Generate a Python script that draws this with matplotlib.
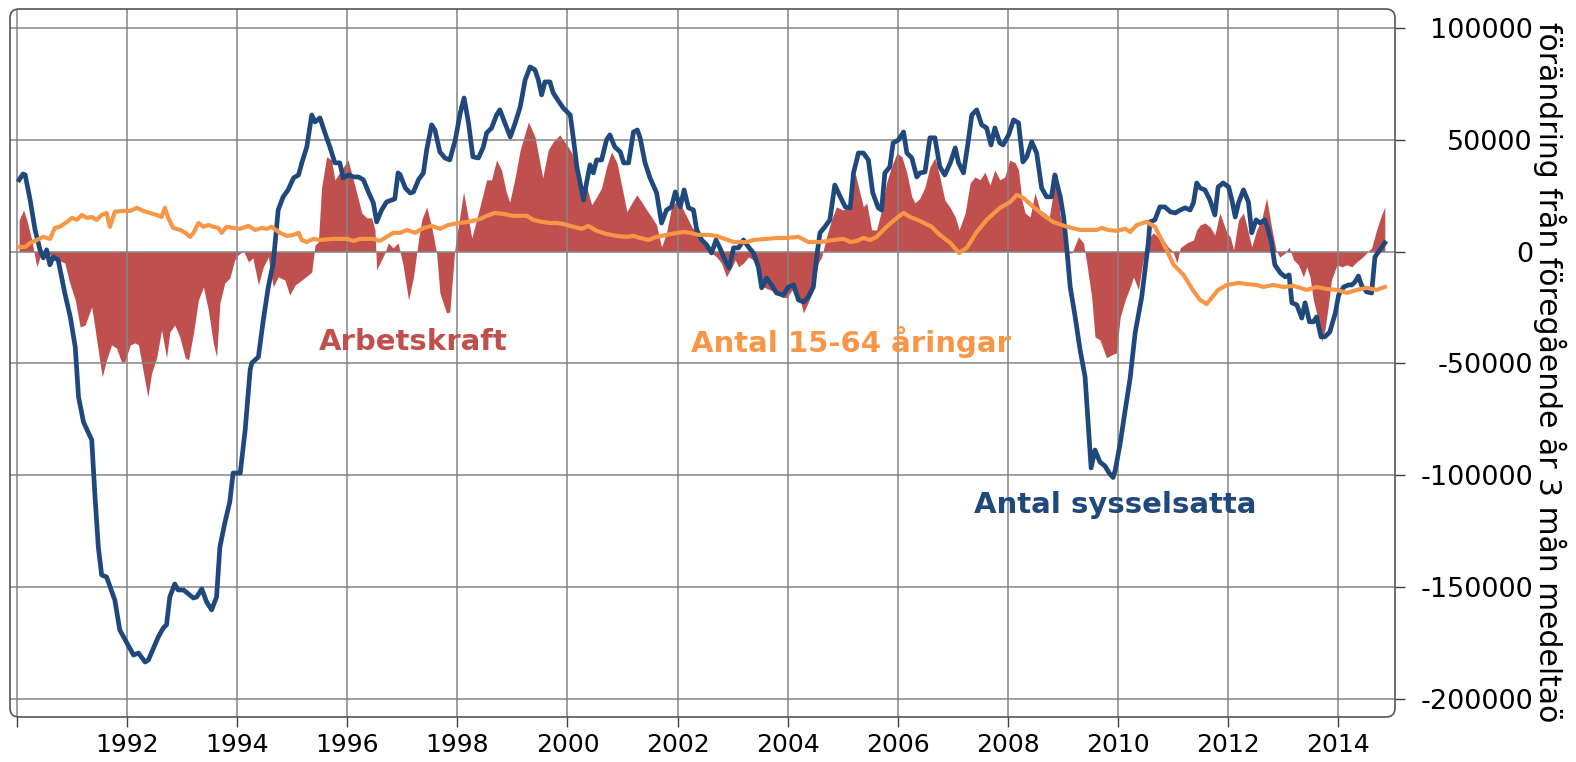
import matplotlib
matplotlib.use("Agg")
import matplotlib.pyplot as plt
import numpy as np
from matplotlib.patches import FancyBboxPatch
from matplotlib.transforms import IdentityTransform

plt.rcParams['font.family'] = ['DejaVu Sans']
plt.rcParams['axes.unicode_minus'] = False

# ---------------- data (values in thousands of persons) ----------------
# Antal sysselsatta (employed) - blue line
emp_t = [1990.03, 1990.10, 1990.14, 1990.23, 1990.32, 1990.41, 1990.47, 1990.53, 1990.59, 1990.65,
         1990.74, 1990.86, 1990.96, 1991.05, 1991.11, 1991.20, 1991.35, 1991.41, 1991.47, 1991.53,
         1991.62, 1991.77, 1991.86, 1992.11, 1992.20, 1992.32, 1992.38, 1992.56, 1992.65, 1992.71,
         1992.77, 1992.86, 1992.92, 1993.02, 1993.20, 1993.26, 1993.35, 1993.44, 1993.53, 1993.62,
         1993.68, 1993.77, 1993.86, 1993.92, 1994.05, 1994.14, 1994.23, 1994.26, 1994.38, 1994.47,
         1994.56, 1994.65, 1994.74, 1994.83, 1994.92, 1995.02, 1995.11, 1995.17, 1995.26, 1995.35,
         1995.41, 1995.50, 1995.59, 1995.68, 1995.77, 1995.86, 1995.92, 1996.02, 1996.11, 1996.20,
         1996.29, 1996.38, 1996.47, 1996.53, 1996.62, 1996.71, 1996.86, 1996.92, 1996.96, 1997.05,
         1997.14, 1997.20, 1997.29, 1997.38, 1997.44, 1997.53, 1997.59, 1997.68, 1997.77, 1997.86,
         1997.96, 1998.05, 1998.12, 1998.20, 1998.28, 1998.38, 1998.47, 1998.53, 1998.62, 1998.71,
         1998.77, 1998.86, 1998.96, 1999.05, 1999.14, 1999.23, 1999.32, 1999.41, 1999.47, 1999.53,
         1999.59, 1999.68, 1999.74, 1999.80, 1999.92, 2000.05, 2000.11, 2000.17, 2000.23, 2000.29,
         2000.35, 2000.41, 2000.47, 2000.53, 2000.62, 2000.71, 2000.77, 2000.86, 2000.96, 2001.02,
         2001.11, 2001.20, 2001.27, 2001.32, 2001.41, 2001.50, 2001.62, 2001.71, 2001.80, 2001.89,
         2001.96, 2002.05, 2002.12, 2002.20, 2002.29, 2002.35, 2002.44, 2002.53, 2002.62, 2002.70,
         2002.77, 2002.86, 2002.94, 2003.02, 2003.11, 2003.20, 2003.29, 2003.38, 2003.47, 2003.53,
         2003.62, 2003.71, 2003.80, 2003.92, 2004.02, 2004.11, 2004.20, 2004.29, 2004.38, 2004.47,
         2004.53, 2004.59, 2004.68, 2004.77, 2004.86, 2004.96, 2005.05, 2005.14, 2005.20, 2005.29,
         2005.38, 2005.47, 2005.55, 2005.65, 2005.71, 2005.77, 2005.86, 2005.92, 2006.02, 2006.11,
         2006.17, 2006.26, 2006.35, 2006.41, 2006.50, 2006.59, 2006.68, 2006.77, 2006.86, 2006.96,
         2007.05, 2007.11, 2007.20, 2007.29, 2007.35, 2007.44, 2007.53, 2007.62, 2007.70, 2007.77,
         2007.86, 2007.92, 2008.02, 2008.11, 2008.20, 2008.28, 2008.35, 2008.44, 2008.53, 2008.62,
         2008.71, 2008.80, 2008.86, 2008.96, 2009.02, 2009.08, 2009.14, 2009.23, 2009.32, 2009.41,
         2009.47, 2009.52, 2009.59, 2009.68, 2009.77, 2009.86, 2009.92, 2009.96, 2010.05, 2010.14,
         2010.23, 2010.32, 2010.44, 2010.50, 2010.56, 2010.59, 2010.68, 2010.77, 2010.86, 2010.96,
         2011.05, 2011.14, 2011.23, 2011.32, 2011.38, 2011.44, 2011.50, 2011.59, 2011.68, 2011.77,
         2011.83, 2011.92, 2012.02, 2012.08, 2012.14, 2012.20, 2012.29, 2012.38, 2012.44, 2012.52,
         2012.59, 2012.68, 2012.74, 2012.80, 2012.86, 2012.96, 2013.05, 2013.12, 2013.17, 2013.26,
         2013.35, 2013.41, 2013.49, 2013.56, 2013.62, 2013.70, 2013.77, 2013.86, 2013.96, 2014.02,
         2014.11, 2014.20, 2014.26, 2014.32, 2014.38, 2014.44, 2014.53, 2014.62, 2014.68, 2014.77,
         2014.86]
emp_v = [32.1, 34.7, 34.3, 23.1, 9.7, 0.8, -2.8, 0.8, -5.9, -2.4,
         -3.7, -18.5, -29.2, -42.6, -65.0, -76.2, -84.2, -109.7, -132.1, -144.6,
         -145.5, -155.8, -169.2, -180.4, -179.5, -183.5, -182.6, -172.3, -168.3, -166.9,
         -154.4, -148.6, -151.3, -151.3, -154.9, -154.4, -150.8, -156.7, -160.2, -154.4,
         -132.1, -121.3, -111.9, -99.0, -99.0, -79.7, -52.9, -49.8, -47.1, -30.5,
         -15.8, -5.1, 18.6, 24.5, 27.6, 33.0, 34.3, 39.7, 46.8, 61.1,
         58.0, 59.8, 53.1, 46.8, 39.7, 39.7, 33.0, 34.3, 33.4, 33.4,
         32.1, 26.7, 21.8, 13.3, 18.6, 22.2, 23.6, 35.2, 34.3, 28.5,
         26.2, 26.7, 32.1, 35.2, 45.5, 56.7, 54.4, 44.6, 41.9, 41.0,
         50.0, 62.0, 68.7, 57.6, 42.4, 41.9, 46.8, 53.1, 55.3, 61.1,
         63.4, 57.6, 51.3, 57.6, 64.7, 76.8, 82.6, 81.2, 76.8, 70.1,
         75.9, 75.9, 71.0, 68.7, 64.3, 61.1, 50.0, 37.9, 30.7, 23.1,
         31.2, 38.8, 35.2, 41.0, 41.0, 50.0, 52.2, 46.8, 44.6, 39.7,
         39.7, 53.5, 54.4, 50.9, 39.7, 33.0, 26.3, 12.8, 18.6, 20.0,
         26.7, 20.0, 27.6, 19.6, 18.6, 9.7, 5.2, 3.0, -0.6, 5.2,
         1.7, -3.7, -7.3, 1.7, 1.7, 5.2, 2.1, -0.6, -6.8, -16.2,
         -11.8, -14.9, -18.5, -19.4, -15.8, -14.9, -21.6, -22.5, -20.3, -15.8,
         -2.4, 8.4, 11.1, 14.2, 29.8, 24.5, 20.0, 19.5, 35.2, 44.1,
         44.1, 41.0, 26.3, 19.6, 18.6, 35.2, 37.9, 48.6, 50.0, 53.5,
         44.1, 41.9, 33.4, 35.2, 35.6, 50.9, 50.9, 37.9, 34.3, 39.7,
         46.4, 39.7, 35.2, 50.0, 61.1, 63.4, 56.7, 55.3, 47.7, 55.3,
         48.6, 47.7, 52.2, 58.9, 57.6, 40.1, 42.4, 49.1, 44.1, 28.5,
         24.5, 24.5, 34.3, 24.5, 15.5, 0.8, -15.8, -29.2, -44.0, -56.0,
         -78.4, -96.7, -88.7, -94.1, -95.8, -99.4, -101.0, -97.6, -85.5, -70.8,
         -56.5, -36.4, -20.3, -8.2, 3.9, 13.3, 14.2, 20.0, 20.0, 17.8,
         17.3, 18.6, 19.6, 18.6, 21.8, 30.7, 28.5, 27.6, 23.1, 16.4,
         28.9, 30.7, 28.9, 23.1, 15.5, 21.8, 27.6, 22.2, 8.4, 14.2,
         12.8, 14.2, 9.7, 3.9, -5.9, -9.5, -11.3, -10.4, -22.9, -23.8,
         -29.7, -22.9, -31.4, -31.4, -29.2, -38.1, -38.1, -35.9, -27.4, -19.4,
         -15.8, -14.9, -14.9, -13.5, -10.9, -15.3, -18.0, -18.5, -2.4, 0.8,
         3.9]

# Antal 15-64 åringar (population 15-64) - orange line
pop_t = [1990.03, 1990.14, 1990.23, 1990.35, 1990.47, 1990.59, 1990.68, 1990.77, 1990.90, 1990.99,
         1991.08, 1991.17, 1991.26, 1991.35, 1991.44, 1991.53, 1991.62, 1991.68, 1991.77, 1991.90,
         1992.05, 1992.17, 1992.29, 1992.41, 1992.53, 1992.62, 1992.68, 1992.74, 1992.83, 1992.96,
         1993.05, 1993.14, 1993.20, 1993.29, 1993.38, 1993.47, 1993.56, 1993.65, 1993.71, 1993.80,
         1993.92, 1994.05, 1994.20, 1994.32, 1994.44, 1994.53, 1994.62, 1994.77, 1994.90, 1995.02,
         1995.11, 1995.17, 1995.26, 1995.38, 1995.50, 1995.74, 1995.99, 1996.11, 1996.23, 1996.47,
         1996.59, 1996.71, 1996.83, 1996.96, 1997.08, 1997.23, 1997.38, 1997.53, 1997.68, 1997.83,
         1998.02, 1998.20, 1998.41, 1998.53, 1998.68, 1998.83, 1999.02, 1999.26, 1999.38, 1999.53,
         1999.68, 1999.80, 1999.92, 2000.11, 2000.26, 2000.38, 2000.53, 2000.71, 2000.90, 2001.08,
         2001.20, 2001.32, 2001.47, 2001.62, 2001.80, 2001.99, 2002.11, 2002.23, 2002.38, 2002.56,
         2002.71, 2002.86, 2003.02, 2003.26, 2003.38, 2003.62, 2003.80, 2003.99, 2004.20, 2004.38,
         2004.59, 2004.83, 2005.02, 2005.14, 2005.26, 2005.38, 2005.50, 2005.62, 2005.80, 2005.99,
         2006.11, 2006.23, 2006.41, 2006.62, 2006.77, 2006.96, 2007.12, 2007.26, 2007.44, 2007.62,
         2007.86, 2008.05, 2008.17, 2008.29, 2008.47, 2008.65, 2008.83, 2009.08, 2009.32, 2009.62,
         2009.71, 2009.83, 2009.99, 2010.14, 2010.23, 2010.35, 2010.53, 2010.68, 2010.83, 2011.02,
         2011.20, 2011.38, 2011.50, 2011.62, 2011.71, 2011.83, 2011.99, 2012.20, 2012.35, 2012.53,
         2012.65, 2012.83, 2013.02, 2013.20, 2013.44, 2013.62, 2013.80, 2013.99, 2014.17, 2014.35,
         2014.53, 2014.71, 2014.86]
pop_v = [2.1, 2.1, 3.9, 5.2, 6.6, 5.7, 10.6, 11.1, 13.3, 15.1,
         14.2, 16.4, 15.1, 15.5, 14.2, 16.4, 17.3, 11.1, 17.8, 18.2,
         18.2, 19.6, 18.2, 17.3, 16.4, 15.5, 19.6, 15.1, 10.6, 9.7,
         8.4, 6.6, 8.4, 12.8, 11.1, 11.9, 11.1, 10.6, 8.4, 11.1,
         10.6, 10.2, 11.5, 9.7, 10.6, 10.2, 11.1, 8.4, 7.0, 7.5,
         8.4, 5.2, 4.3, 5.7, 5.2, 5.7, 5.7, 4.8, 5.7, 5.7,
         4.8, 6.6, 8.4, 8.4, 9.7, 8.4, 10.6, 11.5, 10.2, 11.9,
         12.8, 13.3, 14.6, 16.0, 17.3, 16.9, 16.0, 16.0, 14.2, 13.3,
         12.8, 12.8, 12.4, 11.1, 10.2, 11.5, 9.3, 7.9, 7.0, 6.6,
         7.0, 6.1, 5.2, 6.6, 7.5, 8.4, 8.8, 8.4, 7.5, 7.5,
         7.0, 5.7, 4.3, 4.3, 5.2, 5.7, 6.1, 6.1, 6.6, 4.3,
         4.3, 5.2, 5.7, 4.3, 4.8, 6.1, 5.2, 6.6, 11.1, 15.1,
         17.3, 15.5, 13.7, 11.1, 7.5, 3.9, -0.6, 1.7, 8.8, 14.2,
         19.5, 22.2, 25.4, 24.0, 20.0, 16.4, 13.3, 11.1, 9.7, 9.7,
         10.6, 9.7, 9.3, 10.2, 8.8, 11.9, 13.3, 11.1, 3.9, -5.9,
         -10.4, -17.6, -21.6, -23.4, -20.7, -17.1, -14.9, -14.0, -14.5, -14.9,
         -15.8, -14.9, -15.8, -15.3, -17.1, -15.8, -16.7, -17.1, -18.5, -17.1,
         -16.2, -17.1, -15.8]

# Arbetskraft (labour force) - red area
lab_t = [1990.03, 1990.11, 1990.17, 1990.26, 1990.35, 1990.41, 1990.50, 1990.74, 1990.86, 1990.95,
         1991.05, 1991.14, 1991.23, 1991.35, 1991.44, 1991.54, 1991.62, 1991.71, 1991.80, 1991.89,
         1991.95, 1992.05, 1992.14, 1992.20, 1992.29, 1992.37, 1992.44, 1992.53, 1992.62, 1992.71,
         1992.77, 1992.86, 1992.95, 1993.05, 1993.11, 1993.20, 1993.29, 1993.38, 1993.47, 1993.56,
         1993.62, 1993.68, 1993.77, 1993.86, 1993.95, 1994.01, 1994.11, 1994.20, 1994.28, 1994.38,
         1994.47, 1994.56, 1994.65, 1994.74, 1994.86, 1994.95, 1995.05, 1995.17, 1995.29, 1995.35,
         1995.41, 1995.47, 1995.53, 1995.62, 1995.71, 1995.77, 1995.89, 1996.01, 1996.14, 1996.26,
         1996.35, 1996.44, 1996.50, 1996.53, 1996.59, 1996.68, 1996.74, 1996.83, 1996.92, 1997.01,
         1997.11, 1997.20, 1997.29, 1997.35, 1997.44, 1997.53, 1997.62, 1997.68, 1997.80, 1997.86,
         1997.95, 1998.11, 1998.26, 1998.37, 1998.53, 1998.62, 1998.71, 1998.80, 1998.89, 1998.95,
         1999.05, 1999.14, 1999.29, 1999.41, 1999.55, 1999.65, 1999.74, 1999.86, 1999.99, 2000.08,
         2000.17, 2000.26, 2000.35, 2000.44, 2000.53, 2000.62, 2000.71, 2000.80, 2000.90, 2000.99,
         2001.08, 2001.17, 2001.26, 2001.35, 2001.44, 2001.53, 2001.62, 2001.71, 2001.80, 2001.89,
         2001.99, 2002.08, 2002.17, 2002.26, 2002.35, 2002.44, 2002.53, 2002.62, 2002.71, 2002.80,
         2002.89, 2002.99, 2003.05, 2003.11, 2003.20, 2003.29, 2003.38, 2003.47, 2003.56, 2003.68,
         2003.80, 2003.89, 2003.99, 2004.08, 2004.17, 2004.23, 2004.29, 2004.38, 2004.47, 2004.56,
         2004.62, 2004.71, 2004.80, 2004.89, 2005.01, 2005.14, 2005.23, 2005.29, 2005.38, 2005.44,
         2005.53, 2005.62, 2005.71, 2005.80, 2005.89, 2005.99, 2006.08, 2006.17, 2006.26, 2006.32,
         2006.41, 2006.50, 2006.59, 2006.68, 2006.77, 2006.86, 2006.95, 2007.05, 2007.12, 2007.23,
         2007.32, 2007.41, 2007.50, 2007.59, 2007.68, 2007.77, 2007.86, 2007.95, 2008.04, 2008.14,
         2008.20, 2008.26, 2008.32, 2008.41, 2008.50, 2008.59, 2008.68, 2008.76, 2008.83, 2008.90,
         2008.95, 2009.02, 2009.08, 2009.17, 2009.29, 2009.38, 2009.44, 2009.53, 2009.59, 2009.68,
         2009.80, 2009.89, 2009.98, 2010.05, 2010.14, 2010.23, 2010.29, 2010.38, 2010.46, 2010.55,
         2010.65, 2010.74, 2010.80, 2010.92, 2011.01, 2011.08, 2011.14, 2011.26, 2011.38, 2011.44,
         2011.50, 2011.59, 2011.68, 2011.77, 2011.86, 2011.99, 2012.05, 2012.11, 2012.20, 2012.29,
         2012.38, 2012.44, 2012.53, 2012.62, 2012.71, 2012.80, 2012.88, 2012.95, 2013.05, 2013.12,
         2013.20, 2013.29, 2013.38, 2013.44, 2013.50, 2013.56, 2013.65, 2013.71, 2013.77, 2013.83,
         2013.89, 2013.99, 2014.08, 2014.17, 2014.26, 2014.35, 2014.44, 2014.53, 2014.62, 2014.71,
         2014.80, 2014.86]
lab_v = [14.2, 18.6, 14.2, 5.2, -6.8, -2.4, 0.0, -3.7, -5.1, -14.0,
         -21.6, -33.7, -32.8, -24.7, -39.5, -56.0, -48.4, -41.7, -43.1, -49.3,
         -49.3, -41.7, -40.8, -41.7, -54.2, -65.0, -54.2, -47.5, -35.0, -47.5,
         -35.9, -32.8, -38.1, -47.5, -48.4, -36.4, -21.6, -15.8, -26.1, -40.8,
         -47.1, -22.9, -14.0, -11.8, -3.7, -1.5, 0.3, -4.6, -2.8, -14.9,
         -6.8, -2.4, -15.8, -11.3, -12.7, -19.4, -14.9, -12.7, -10.4, -9.1,
         3.0, 4.3, 28.9, 42.4, 41.0, 32.1, 36.5, 41.0, 28.9, 17.3,
         15.1, 15.1, 9.7, -8.2, -5.1, -0.6, 3.9, 1.7, 3.9, -6.0,
         -21.6, -11.3, 5.2, 14.2, 20.0, 11.1, -0.6, -18.5, -27.4, -27.0,
         0.8, 26.7, 6.1, 16.4, 32.1, 32.1, 41.0, 36.5, 26.3, 22.2,
         33.4, 45.5, 58.0, 51.3, 33.0, 45.5, 49.1, 52.2, 47.7, 44.1,
         35.2, 28.5, 28.9, 20.9, 24.5, 28.5, 37.9, 44.6, 39.7, 28.9,
         17.8, 21.8, 25.4, 22.2, 18.6, 15.5, 11.9, 2.1, 8.4, 19.6,
         23.1, 20.0, 15.5, 11.1, 8.4, 3.9, 1.7, -0.6, -2.4, -5.1,
         -11.3, -6.8, -3.7, -6.8, -5.1, -2.4, -3.7, -9.5, -15.8, -17.1,
         -18.0, -20.3, -20.7, -17.1, -20.3, -21.6, -27.4, -22.5, -17.1, -5.1,
         -2.4, 6.6, 14.2, 20.0, 18.6, 20.9, 35.2, 28.9, 20.0, 21.8,
         9.7, 9.7, 18.6, 30.7, 37.9, 44.1, 42.4, 35.2, 24.5, 21.8,
         24.0, 28.9, 37.9, 41.9, 33.4, 23.1, 20.0, 15.5, 9.7, 17.3,
         30.7, 33.4, 32.1, 35.6, 29.8, 36.5, 32.1, 33.4, 41.0, 39.7,
         36.5, 23.1, 17.3, 15.5, 26.3, 18.6, 17.3, 15.5, 26.3, 35.2,
         17.3, 8.4, -0.6, -0.6, 6.6, 3.9, -5.1, -20.3, -38.1, -39.5,
         -47.5, -46.2, -45.3, -29.2, -21.6, -15.8, -11.3, -17.1, -4.6, 5.2,
         8.4, 6.6, 6.6, 2.1, -0.1, -5.1, 1.7, 3.9, 5.2, 9.7,
         11.9, 12.8, 11.1, 7.5, 17.3, 8.4, 6.6, 0.8, 14.2, 17.3,
         8.4, 2.1, 9.7, 14.2, 24.0, 11.1, 0.8, -2.4, -0.6, 2.1,
         -3.7, -5.9, -11.3, -6.8, -11.3, -21.6, -30.5, -40.4, -35.0, -24.7,
         -12.7, -5.9, -6.8, -5.9, -6.8, -4.6, -2.8, -0.6, 1.7, 9.7,
         16.4, 20.0]

x_ticks = list(range(1990, 2015, 2))
x_labels = [''] + [str(y) for y in range(1992, 2015, 2)]
y_ticks = [-200000, -150000, -100000, -50000, 0, 50000, 100000]
y_labels = [str(v) for v in y_ticks]

series_names = ['Arbetskraft', 'Antal 15-64 åringar', 'Antal sysselsatta']
ylabel_text = 'förändring från föregående år 3 mån medeltaö'

# ---------------- styling ----------------
RED = '#c0504d'
ORANGE = '#f79646'
BLUE = '#1f497d'
GRID = '#858585'

W, H = 1576, 762
fig = plt.figure(figsize=(W / 100, H / 100), dpi=100)
ax = fig.add_axes([10 / W, 45 / H, (1395 - 10) / W, (753 - 45) / H])

k = 1000.0
ax.fill_between(lab_t, np.array(lab_v) * k, 0, color=RED, lw=0, zorder=1)
ax.plot(emp_t, np.array(emp_v) * k, color=BLUE, lw=3.4, zorder=4, solid_joinstyle='round')
ax.plot(pop_t, np.array(pop_v) * k, color=ORANGE, lw=3.0, zorder=5, solid_joinstyle='round')

ax.set_xlim(1989.864, 2015.045)
ax.set_ylim(-208100, 108500)

ax.set_xticks(x_ticks)
ax.set_xticklabels(x_labels)
ax.set_yticks(y_ticks)
ax.set_yticklabels(y_labels)

ax.grid(True, color=GRID, lw=1.1, zorder=2)
ax.set_axisbelow(False)
for gl in ax.get_xgridlines() + ax.get_ygridlines():
    gl.set_zorder(2)

for s in ax.spines.values():
    s.set_visible(False)

ax.yaxis.tick_right()
ax.tick_params(axis='y', which='both', left=False, right=True, direction='out',
               length=7.2, width=1.0, color='#404040', labelsize=19.5, pad=92.2)
for lab in ax.get_yticklabels():
    lab.set_horizontalalignment('right')
ax.tick_params(axis='x', direction='out', length=7.2, width=1.0, color='#404040',
               labelsize=18, pad=4.5)

# rounded frame
pos = ax.get_position()
x0, y0 = pos.x0 * W, pos.y0 * H
frame = FancyBboxPatch((x0, y0), pos.width * W, pos.height * H,
                       boxstyle='round,pad=0,rounding_size=9',
                       transform=IdentityTransform(), fill=False,
                       edgecolor='#555555', lw=1.2, zorder=10)
fig.patches.append(frame)

# series labels
ax.text(1997.19, -40400, series_names[0], color=RED, fontsize=21, fontweight='bold',
        ha='center', va='center', zorder=6)
ax.text(2005.15, -40400, series_names[1], color=ORANGE, fontsize=21, fontweight='bold',
        ha='center', va='center', zorder=6)
ax.text(2009.955, -113300, series_names[2], color=BLUE, fontsize=21, fontweight='bold',
        ha='center', va='center', zorder=6)

fig.text(1550 / W, 1 - 22 / H, ylabel_text, rotation=270, fontsize=21.5,
         ha='center', va='top', color='black')

fig.savefig('out.png', dpi=100)
